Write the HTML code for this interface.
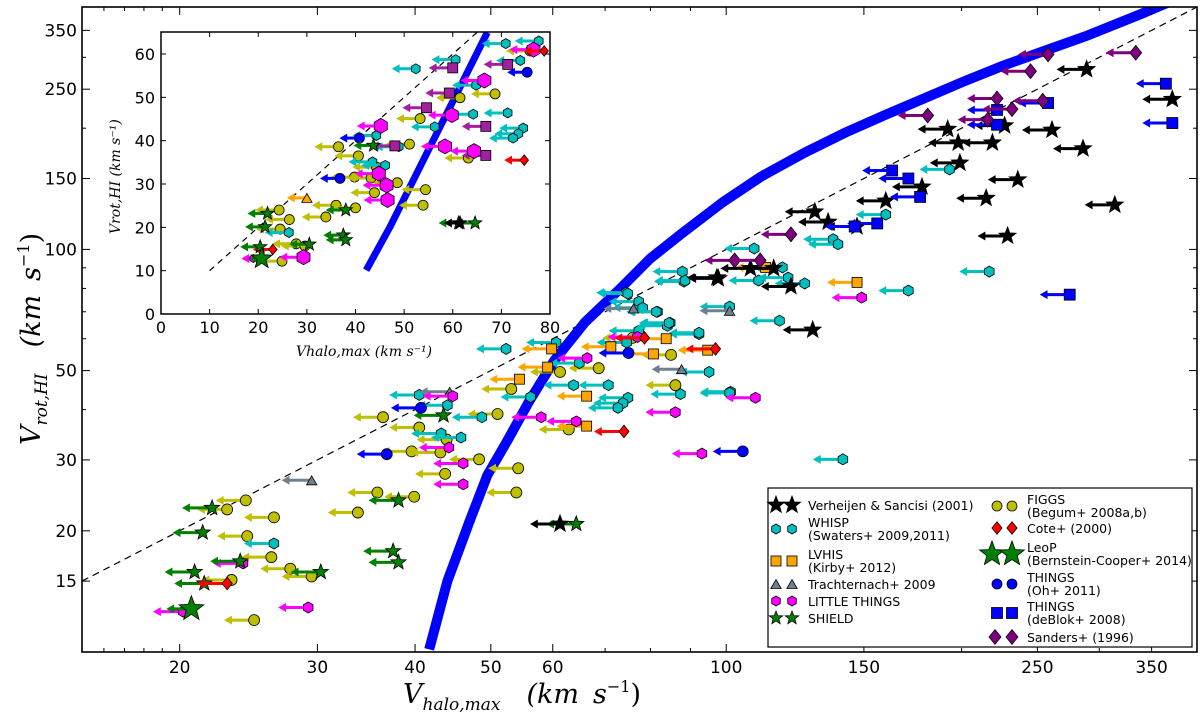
<!DOCTYPE html>
<html><head><meta charset="utf-8"><style>
html,body{margin:0;padding:0;background:#fff;}
svg{display:block;}
</style></head><body>
<svg id="chart" width="1200" height="714" viewBox="0 0 1200 714" xmlns="http://www.w3.org/2000/svg" style="font-family:'DejaVu Sans','Liberation Sans',sans-serif">
<defs>
<clipPath id="mainClip"><rect x="82" y="7" width="1115" height="645"/></clipPath>
<clipPath id="insetClip"><rect x="161" y="32" width="389" height="282"/></clipPath>
</defs>
<rect x="0" y="0" width="1200" height="714" fill="#fff"/>
<g id="main" clip-path="url(#mainClip)"></g>
<g id="axes"></g>
<g id="titles" style="font-family:'DejaVu Serif','Liberation Serif',serif;font-style:italic">
<text x="403" y="703" font-size="27">V<tspan font-size="17" dy="7">halo,max</tspan><tspan dy="-7" dx="26">(km</tspan><tspan dx="14">s</tspan><tspan font-size="16" font-style="normal" dy="-11">−1</tspan><tspan dy="11" font-style="normal">)</tspan></text>
<text transform="translate(40,445) rotate(-90)" font-size="27">V<tspan font-size="17" dy="7">rot,HI</tspan><tspan dy="-7" dx="26">(km</tspan><tspan dx="14">s</tspan><tspan font-size="16" font-style="normal" dy="-11">−1</tspan><tspan dy="11" font-style="normal">)</tspan></text>
</g>
<g id="inset"></g>
<g id="legend"></g>
</svg>
<script>
// ---- main plot data (Vhalo,max , Vrot,HI) ----
const figgs = [[24.3,23.8],[23.0,22.6],[26.4,21.6],[24.4,19.4],[26.2,17.2],[27.7,16.1],[29.5,15.4],[23.3,15.1],[24.9,12.0],[35.8,24.9],[39.9,24.3],[33.8,22.2],[36.4,38.3],[40.5,36.1],[43.9,33.7],[39.6,31.5],[43.1,31.3],[48.3,30.1],[43.7,27.7],[54.2,28.6],[53.9,24.9],[51.0,39.0],[53.1,45.0],[61.3,49.6],[68.7,50.7],[86.1,46.0],[62.9,35.7],[75.9,60.3],[85.0,54.7]];
const shield = [[22.0,22.8],[21.4,19.8],[23.9,16.8],[20.9,15.8],[30.3,15.8],[21.5,14.8],[37.5,17.8],[38.1,16.7],[38.1,23.8],[43.5,38.7],[64.3,20.8]];
const leop = [[20.7,12.8]];
const littleThings = [[24.1,16.6],[20.2,12.6],[29.2,12.9],[44.7,43.2],[44.2,32.2],[46.1,29.4],[46.1,26.1],[58.0,38.3],[64.3,37.4],[93.1,31.1],[86.1,39.4],[66.4,53.7],[77.0,60.6],[109,42.8],[149,75.9]];
const whisp = [[26.4,18.6],[40.5,43.5],[44.0,41.0],[43.2,34.9],[45.8,34.1],[48.7,38.3],[56.2,43.0],[63.8,46.0],[70.7,46.0],[74.9,42.8],[73.8,41.5],[72.7,40.4],[95.1,49.6],[87.4,43.7],[101.3,44.3],[52.3,56.6],[60.6,58.7],[64.9,52.2],[74.6,58.7],[77.3,62.8],[84.1,64.6],[84.8,65.7],[92.3,61.6],[101,44.0],[117,66.5],[74.5,78.1],[77.3,74.2],[78.2,71.6],[81.7,70.0],[87.9,88.1],[88.3,83.2],[101,72.1],[193,158],[160,122],[137,106],[139,103],[108.6,100.5],[118,90.2],[88.6,83.7],[126,82.3],[110,83.7],[120,85.1],[171,79.0],[217,88.1],[74.8,77.7],[81.4,70.0],[84.5,65.7],[92.3,62.1],[141,30.1]];
const lvhis = [[54.4,47.6],[59.1,51.0],[66.3,43.2],[66.3,36.4],[59.8,56.6],[71.2,57.3],[80.7,55.0],[83.8,60.0],[94.7,56.2],[112.3,90.2],[147,82.8]];
const cote = [[23.0,14.8],[74.0,35.3],[78.6,60.3],[96.9,56.6]];
const trach = [[29.5,26.7],[44.3,44.3],[87.7,50.4],[76.1,71.3],[101,70.4]];
const thingsOh = [[36.8,31.0],[40.7,40.4],[75.0,55.3],[105,31.5]];
const verheijen = [[61.3,20.8],[97.3,85.1],[129,63.1],[107.4,89.7],[115,89.7],[97.7,84.7],[121,80.9],[129.8,124],[135,117],[147,114],[160,132],[178,143],[215,134],[236,149],[314,129],[229,108],[199,164],[192,199],[198,184],[219,184],[227,203],[261,198],[286,178],[289,280],[372,236]];
const thingsDeBlok = [[365,258],[372,206],[258,231],[222,222],[222,204],[163,157],[171,150],[177,135],[156,116],[146,114],[275,77.2]];
const sanders = [[258,305],[334,308],[245,277],[222,237],[254,234],[232,223],[181,215],[216,210],[121,109],[102.5,93.9],[110.5,93.9]];
const curveX = [41.7,44,47,49.5,52.5,56,60.3,66,73,80,88,99,111,126,142,160,179,201,226,256,290,340,400];
const curveY = [10.15,15,21.2,27.5,33.5,42,53,66,79.5,95,110,131,152,174,195,216,237,261,286,312,340,385,440];
const xTicks = [20,30,40,50,60,100,150,250,350];
const yTicks = [15,20,30,50,100,150,250,350];
// ---- inset data (linear) ----
const iWhisp = [[52.4,56.6],[60.6,58.7],[70.9,62.4],[77.7,63],[73.9,58.5],[64.8,52.8],[64.2,46.1],[71.3,46.4],[56.3,43.2],[74.5,42.9],[73.5,41.6],[72.4,40.6],[44.3,41.2],[48.9,38.6],[43.5,35.1],[46.1,34.3],[26.3,18.8]];
const iSquares = [[60,56.8],[71.3,57.6],[59.3,51],[54.6,47.6],[66.8,43.3],[48.1,38.8],[66.8,36.6]];
const iLittle = [[76.6,61],[66.5,53.9],[59.8,45.9],[45.2,43.4],[58.4,38.7],[64.4,37.6],[44.8,32.4],[46.4,29.7],[46.6,26.3],[29.3,13.1]];
const iLittleSmall = [[19,12.8]];
const iFiggs = [[75.9,60.7],[61.5,49.9],[68.7,50.8],[53.3,45.1],[36.5,38.6],[51.1,39.2],[63.2,36],[40.6,36.5],[44.3,33.9],[39.8,31.6],[43.2,31.4],[48.6,30.3],[43.9,28],[54.4,28.7],[53.9,25.1],[36,25.1],[40,24.5],[33.9,22.4],[24.3,24],[26.4,21.8],[24.5,19.6],[27.8,16.2],[29.6,15.7],[24.9,12.2]];
const iCote = [[78.8,60.7],[74.7,35.5],[23,14.9]];
const iOh = [[75.3,55.8],[40.8,40.6],[36.8,31.3]];
const iShield = [[43.7,38.9],[38,24],[21.9,23.2],[37.5,18.2],[38,17.1],[21.4,20.1],[30.5,16.1],[20.4,15.5],[61.2,21],[64.6,21]];
const iVerheijen = [[61.5,21]];
const iLvhisTri = [[30,26.8]];
const iLeop = [[20.7,12.8]];
const iCurveX = [42.2,47.1,51.9,56,60.8,67.1];
const iCurveY = [10.1,20.1,30.9,40.1,50.8,65];
const iXTicks = [0,10,20,30,40,50,60,70,80];
const iYTicks = [0,10,20,30,40,50,60];

const NS = "http://www.w3.org/2000/svg";
const X = v => 82 + (Math.log10(v) - Math.log10(15)) * 781.9;
const Y = v => 652 - (Math.log10(v) - 1) * 402.6;
const IX = v => 161 + v * 4.8625;
const IY = v => 314 - v * 4.333;

function mk(tag, attrs, parent) {
  const e = document.createElementNS(NS, tag);
  for (const k in attrs) e.setAttribute(k, attrs[k]);
  parent.appendChild(e);
  return e;
}
function starPts(cx, cy, r) {
  let p = [];
  for (let i = 0; i < 10; i++) {
    const a = -Math.PI / 2 + i * Math.PI / 5;
    const rr = i % 2 ? r * 0.42 : r;
    p.push((cx + rr * Math.cos(a)).toFixed(1) + "," + (cy + rr * Math.sin(a)).toFixed(1));
  }
  return p.join(" ");
}
function polyPts(cx, cy, r, n, rot) {
  let p = [];
  for (let i = 0; i < n; i++) {
    const a = rot + i * 2 * Math.PI / n;
    p.push((cx + r * Math.cos(a)).toFixed(1) + "," + (cy + r * Math.sin(a)).toFixed(1));
  }
  return p.join(" ");
}
function marker(g, shape, cx, cy, r, fill) {
  let e;
  const st = {fill: fill, stroke: "#000", "stroke-width": 0.8};
  if (shape === "circle") e = mk("circle", Object.assign({cx: cx, cy: cy, r: r}, st), g);
  else if (shape === "star") e = mk("polygon", Object.assign({points: starPts(cx, cy, r)}, st), g);
  else if (shape === "hex") e = mk("polygon", Object.assign({points: polyPts(cx, cy, r, 6, Math.PI / 6)}, st), g);
  else if (shape === "square") e = mk("rect", Object.assign({x: cx - r, y: cy - r, width: 2 * r, height: 2 * r}, st), g);
  else if (shape === "tri") e = mk("polygon", Object.assign({points: polyPts(cx, cy + r * 0.25, r, 3, -Math.PI / 2)}, st), g);
  else if (shape === "diamond") e = mk("polygon", Object.assign({points: `${cx},${cy - r * 1.05} ${cx + r * 0.85},${cy} ${cx},${cy + r * 1.05} ${cx - r * 0.85},${cy}`}, st), g);
  return e;
}
function arrow(g, x, y, len, color, w) {
  const tip = x - len;
  mk("line", {x1: x, y1: y, x2: tip + w * 2, y2: y, stroke: color, "stroke-width": w}, g);
  mk("polygon", {points: `${tip},${y} ${tip + w * 2.6},${y - w * 1.5} ${tip + w * 2.6},${y + w * 1.5}`, fill: color}, g);
}
function series(parent, data, fx, fy, shape, r, color, arrowColor, len, w, name) {
  const g = mk("g", {}, parent);
  
  
  data.forEach(d => {
    const cx = fx(d[0]), cy = fy(d[1]);
    arrow(g, cx, cy, len, arrowColor, w);
    const m = marker(g, shape, cx, cy, r, color);
    
    
  });
}

// ---------- MAIN ----------
const main = document.getElementById("main");
const diag = mk("line", {x1: X(15), y1: Y(15), x2: X(400), y2: Y(400), stroke: "#000", "stroke-width": 1.2, "stroke-dasharray": "7,5"}, main);


const cpts = curveX.map((v, i) => X(v).toFixed(1) + "," + Y(curveY[i]).toFixed(1)).join(" ");
const curve = mk("polyline", {points: cpts, fill: "none", stroke: "#0000ff", "stroke-width": 10, "stroke-linejoin": "round"}, main);



series(main, figgs, X, Y, "circle", 5.5, "#bfbf00", "#bfbf00", 30, 3, "figgs-series");
series(main, whisp, X, Y, "hex", 5.5, "#00bfbf", "#00bfbf", 30, 3, "whisp-series");
series(main, lvhis, X, Y, "square", 5, "#ffa500", "#ffa500", 30, 3, "lvhis-series");
series(main, trach, X, Y, "tri", 6, "#708090", "#708090", 30, 3, "trachternach-series");
series(main, littleThings, X, Y, "hex", 5.5, "#ff00ff", "#ff00ff", 30, 3, "little-things-series");
series(main, shield, X, Y, "star", 8, "#007f00", "#007f00", 30, 3, "shield-series");
series(main, cote, X, Y, "diamond", 6, "#ff0000", "#ff0000", 30, 3, "cote-series");
series(main, thingsOh, X, Y, "circle", 5.5, "#0000ff", "#0000ff", 30, 3, "things-oh-series");
series(main, verheijen, X, Y, "star", 9, "#000", "#000", 30, 3, "verheijen-series");
series(main, thingsDeBlok, X, Y, "square", 5.5, "#0000ff", "#0000ff", 30, 3, "things-deblok-series");
series(main, sanders, X, Y, "diamond", 7, "#7f007f", "#7f007f", 30, 3, "sanders-series");
series(main, leop, X, Y, "star", 13, "#007f00", "#007f00", 25, 3, "leop-series");

// ---------- AXES ----------
const axes = document.getElementById("axes");
const frame = mk("rect", {x: 82, y: 7, width: 1115, height: 645, fill: "none", stroke: "#000", "stroke-width": 1.6}, axes);


const minorX = [16,17,18,19,70,80,90,200,300,400];
minorX.forEach(v => { mk("line", {x1: X(v), y1: 652, x2: X(v), y2: 648, stroke: "#000"}, axes); mk("line", {x1: X(v), y1: 7, x2: X(v), y2: 11, stroke: "#000"}, axes); });
const minorY = [40,60,70,80,90,200,300,400];
minorY.forEach(v => { mk("line", {x1: 82, y1: Y(v), x2: 86, y2: Y(v), stroke: "#000"}, axes); mk("line", {x1: 1197, y1: Y(v), x2: 1193, y2: Y(v), stroke: "#000"}, axes); });
xTicks.forEach(v => {
  mk("line", {x1: X(v), y1: 652, x2: X(v), y2: 644, stroke: "#000"}, axes);
  mk("line", {x1: X(v), y1: 7, x2: X(v), y2: 15, stroke: "#000"}, axes);
  const t = mk("text", {x: X(v), y: 673, "text-anchor": "middle", "font-size": 17}, axes);
  t.textContent = v;
  
  
});
yTicks.forEach(v => {
  mk("line", {x1: 82, y1: Y(v), x2: 90, y2: Y(v), stroke: "#000"}, axes);
  mk("line", {x1: 1197, y1: Y(v), x2: 1189, y2: Y(v), stroke: "#000"}, axes);
  const t = mk("text", {x: 77, y: Y(v) + 6, "text-anchor": "end", "font-size": 17}, axes);
  t.textContent = v;
  
  
});

// ---------- INSET ----------
const insetRoot = document.getElementById("inset");


mk("rect", {x: 161, y: 32, width: 389, height: 282, fill: "#fff"}, insetRoot);
const ig = mk("g", {"clip-path": "url(#insetClip)"}, insetRoot);
const idiag = mk("line", {x1: IX(10), y1: IY(10), x2: IX(66), y2: IY(66), stroke: "#000", "stroke-width": 1.2, "stroke-dasharray": "6,5"}, ig);


const icp = iCurveX.map((v, i) => IX(v).toFixed(1) + "," + IY(iCurveY[i]).toFixed(1)).join(" ");
const icurve = mk("polyline", {points: icp, fill: "none", stroke: "#0000ff", "stroke-width": 7}, ig);


series(ig, iFiggs, IX, IY, "circle", 5, "#bfbf00", "#bfbf00", 24, 3, "inset-figgs");
series(ig, iWhisp, IX, IY, "hex", 5, "#00bfbf", "#00bfbf", 24, 3, "inset-whisp");
series(ig, iSquares, IX, IY, "square", 5, "#a020a0", "#a020a0", 24, 3, "inset-squares");
series(ig, iLittle, IX, IY, "hex", 7.5, "#ff00ff", "#ff00ff", 24, 3, "inset-little-things");
series(ig, iLittleSmall, IX, IY, "hex", 4, "#ff00ff", "#ff00ff", 12, 3, "inset-little-things-small");
series(ig, iLvhisTri, IX, IY, "tri", 6, "#ffa500", "#ffa500", 20, 3, "inset-lvhis");
series(ig, iCote, IX, IY, "diamond", 5, "#ff0000", "#ff0000", 20, 3, "inset-cote");
series(ig, iOh, IX, IY, "circle", 5, "#0000ff", "#0000ff", 20, 3, "inset-things-oh");
series(ig, iShield, IX, IY, "star", 7, "#007f00", "#007f00", 20, 3, "inset-shield");
series(ig, iVerheijen, IX, IY, "star", 7, "#000", "#000", 16, 3, "inset-verheijen");
series(ig, iLeop, IX, IY, "star", 11, "#007f00", "#007f00", 12, 3, "inset-leop");
const iframe = mk("rect", {x: 161, y: 32, width: 389, height: 282, fill: "none", stroke: "#000", "stroke-width": 1.5}, insetRoot);


iXTicks.forEach(v => {
  mk("line", {x1: IX(v), y1: 314, x2: IX(v), y2: 309, stroke: "#000"}, insetRoot);
  mk("line", {x1: IX(v), y1: 32, x2: IX(v), y2: 37, stroke: "#000"}, insetRoot);
  const t = mk("text", {x: IX(v), y: 333, "text-anchor": "middle", "font-size": 16}, insetRoot);
  t.textContent = v;
  
  
});
iYTicks.forEach(v => {
  mk("line", {x1: 161, y1: IY(v), x2: 166, y2: IY(v), stroke: "#000"}, insetRoot);
  mk("line", {x1: 550, y1: IY(v), x2: 545, y2: IY(v), stroke: "#000"}, insetRoot);
  const t = mk("text", {x: 155, y: IY(v) + 6, "text-anchor": "end", "font-size": 16}, insetRoot);
  t.textContent = v;
  
  
});
const ixl = mk("text", {x: 296, y: 356, "font-size": 14, style: "font-family:'DejaVu Serif','Liberation Serif',serif;font-style:italic"}, insetRoot);
ixl.textContent = "Vhalo,max  (km s⁻¹)";


const iyl = mk("text", {x: 0, y: 0, "font-size": 14, style: "font-family:'DejaVu Serif','Liberation Serif',serif;font-style:italic", transform: "translate(120,234) rotate(-90)"}, insetRoot);
iyl.textContent = "Vrot,HI  (km s⁻¹)";



// ---------- LEGEND ----------
const leg = document.getElementById("legend");


mk("rect", {x: 768, y: 488, width: 424, height: 159, fill: "#fff", stroke: "#000", "stroke-width": 1.2}, leg);
const legendItems = [
  ["star", 9, "#000", 776, 792, 505, ["Verheijen & Sancisi (2001)"], 808],
  ["hex", 5, "#00bfbf", 776, 792, 529, ["WHISP", "(Swaters+ 2009,2011)"], 808],
  ["square", 5, "#ffa500", 776, 792, 561, ["LVHIS", "(Kirby+ 2012)"], 808],
  ["tri", 6, "#708090", 776, 792, 584, ["Trachternach+ 2009"], 808],
  ["hex", 5, "#ff00ff", 776, 792, 601, ["LITTLE THINGS"], 808],
  ["star", 7, "#007f00", 776, 792, 618, ["SHIELD"], 808],
  ["circle", 5, "#bfbf00", 997, 1012, 506, ["FIGGS", "(Begum+ 2008a,b)"], 1027],
  ["diamond", 6, "#ff0000", 997, 1012, 528, ["Cote+ (2000)"], 1027],
  ["star", 13, "#007f00", 992, 1012, 554, ["LeoP", "(Bernstein-Cooper+ 2014)"], 1027],
  ["circle", 5, "#0000ff", 997, 1012, 584, ["THINGS", "(Oh+ 2011)"], 1027],
  ["square", 5.5, "#0000ff", 997, 1012, 613, ["THINGS", "(deBlok+ 2008)"], 1027],
  ["diamond", 7, "#7f007f", 995, 1012, 637, ["Sanders+ (1996)"], 1027]
];
legendItems.forEach(it => {
  const g = mk("g", {}, leg);
  
  
  marker(g, it[0], it[3], it[5], it[1], it[2]);
  marker(g, it[0], it[4], it[5], it[1], it[2]);
  const lines = it[6];
  lines.forEach((s, i) => {
    const y = lines.length === 1 ? it[5] + 5 : it[5] - 2 + i * 13;
    const t = mk("text", {x: it[7], y: y, "font-size": 12.5}, g);
    t.textContent = s;
  });
});
</script>
</body></html>
